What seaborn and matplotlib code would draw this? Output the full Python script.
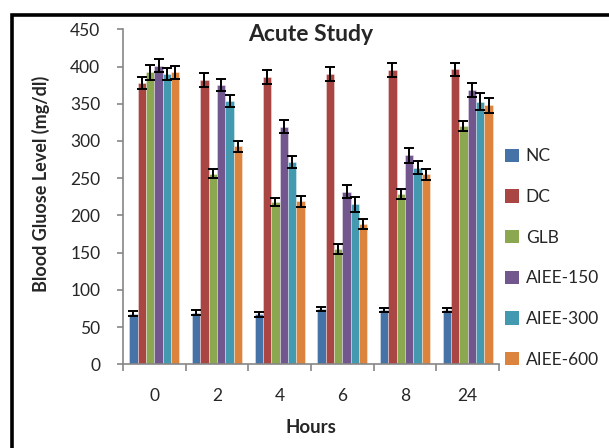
import matplotlib
matplotlib.use("Agg")
import matplotlib.pyplot as plt
import seaborn as sns
import pandas as pd
import numpy as np
from matplotlib.patches import Rectangle, Patch

hours = ["0", "2", "4", "6", "8", "24"]
groups = ["NC", "DC", "GLB", "AIEE-150", "AIEE-300", "AIEE-600"]

nc = [68, 69.5, 67, 74, 73, 73]
dc = [378, 382, 386, 390, 395, 396]
glb = [392, 256, 218, 155, 229, 320]
aiee150 = [401, 375, 319, 232, 281, 369]
aiee300 = [390, 354, 272, 215, 264, 353]
aiee600 = [392, 293, 219, 189, 255, 348]

nc_err = [3, 3, 3, 3, 3, 3]
dc_err = [8, 9, 9, 9.5, 9.5, 9]
glb_err = [10, 6, 5.5, 6.5, 6.3, 6.7]
aiee150_err = [9, 8, 8.5, 8.7, 10, 9.4]
aiee300_err = [7.8, 8.3, 8.3, 10, 9, 11]
aiee600_err = [8.3, 7.4, 7.4, 6.7, 7.8, 10]

colors = ["#4573A7", "#A94543", "#8BA74F", "#72578F", "#4299B0", "#DC843D"]

values = [nc, dc, glb, aiee150, aiee300, aiee600]
errors = [nc_err, dc_err, glb_err, aiee150_err, aiee300_err, aiee600_err]

rows = []
for g, vals in zip(groups, values):
    for h, v in zip(hours, vals):
        rows.append({"Hours": h, "Group": g, "Value": v})
df = pd.DataFrame(rows)

sns.set_style("white")
plt.rcParams["font.family"] = ["Lato", "DejaVu Sans"]

fig = plt.figure(figsize=(6.09, 4.48), dpi=100)
ax = fig.add_axes([123 / 609, 1 - 364.3 / 448, 376 / 609, 335 / 448])

sns.barplot(data=df, x="Hours", y="Value", hue="Group", order=hours,
            hue_order=groups, palette=colors, errorbar=None, ax=ax,
            width=0.8, edgecolor=(1, 1, 1, 0.5), linewidth=0.5, saturation=1)

for cont, errs in zip(ax.containers, errors):
    xs = [p.get_x() + p.get_width() / 2 for p in cont.patches]
    ys = [p.get_height() for p in cont.patches]
    ax.errorbar(xs, ys, yerr=errs, fmt="none", ecolor="black",
                elinewidth=1.4, capsize=3.8, capthick=1.4, zorder=5)

ax.set_ylim(0, 450)
ax.set_xlim(-0.5, 5.5)
ax.set_yticks(np.arange(0, 451, 50))
ax.set_xlabel("")
ax.set_ylabel("")

gray = "#868686"
for s in ["top", "right"]:
    ax.spines[s].set_visible(False)
for s in ["left", "bottom"]:
    ax.spines[s].set_color(gray)
    ax.spines[s].set_linewidth(1.2)

ax.tick_params(axis="y", which="major", direction="out", length=4.3,
               width=1.2, color=gray, pad=12, labelsize=12.5, left=True)
ax.set_xticks(np.arange(-0.5, 6, 1), minor=True)
ax.tick_params(axis="x", which="minor", direction="out", length=5,
               width=1.2, color=gray, bottom=True)
ax.tick_params(axis="x", which="major", length=0, pad=17, labelsize=12.5)

ax.text(0.5, (364.3 - 41.3) / 335, "Acute Study", transform=ax.transAxes,
        ha="center", va="baseline", fontsize=16.5, fontweight="bold")
fig.text(311 / 609, 1 - 433 / 448, "Hours", ha="center", va="baseline",
         fontsize=13.5, fontweight="bold")
fig.text(41 / 609, 1 - 184 / 448, "Blood Gluose Level (mg/dl)", rotation=90,
         ha="center", va="center", fontsize=13, fontweight="bold")

if ax.get_legend() is not None:
    ax.get_legend().remove()
handles = [Patch(facecolor=c, edgecolor="none") for c in colors]
fig.legend(handles, groups, loc="center left",
           bbox_to_anchor=(505 / 609, 1 - 258 / 448), frameon=False,
           fontsize=12.5, handlelength=0.8, handleheight=0.8,
           handletextpad=0.4, labelspacing=1.42, borderpad=0,
           borderaxespad=0)

fig.add_artist(Rectangle((11.5 / 609, -0.2), 1.5, 1.2 - 15 / 448 + 0.0,
                         transform=fig.transFigure, fill=False,
                         edgecolor="black", linewidth=2.6, clip_on=False))

fig.savefig("out.png", dpi=100)
